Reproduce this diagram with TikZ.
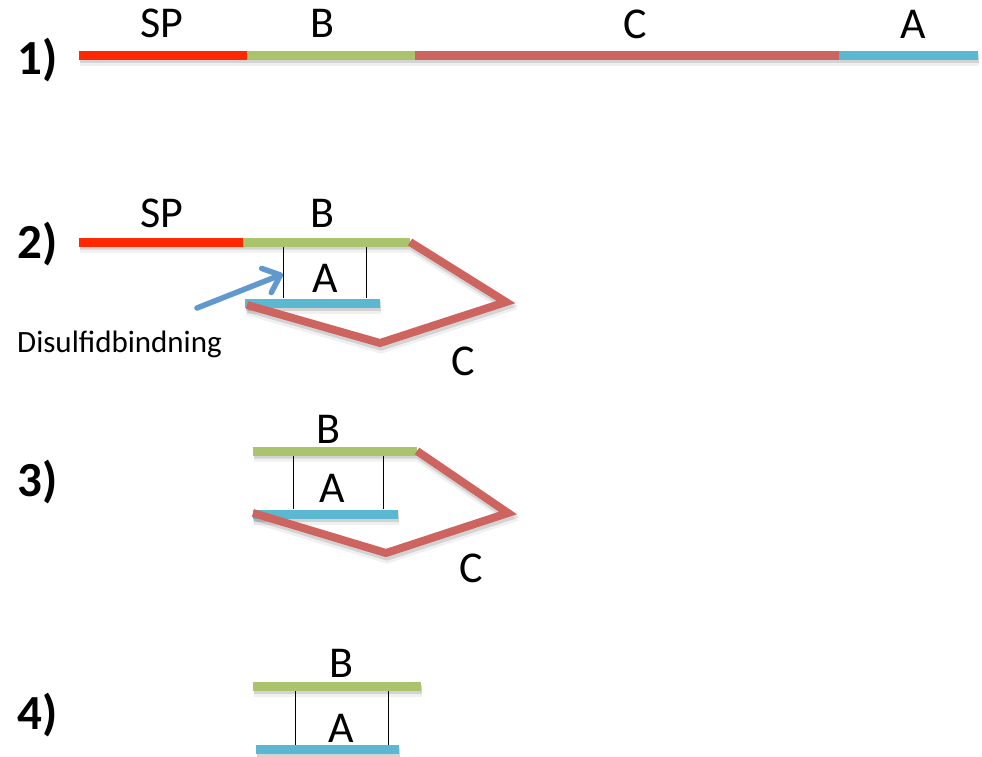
\documentclass[tikz,border=0pt]{standalone}
\usepackage{fontspec}
\setmainfont{Carlito}
\usetikzlibrary{arrows.meta}
\definecolor{spred}{RGB}{255,40,0}
\definecolor{bgreen}{RGB}{169,196,108}
\definecolor{cred}{RGB}{205,100,96}
\definecolor{ablue}{RGB}{91,184,209}
\definecolor{arrblue}{RGB}{97,152,206}
\tikzset{
  bar/.style={line width=9pt, line cap=butt},
  loop/.style={draw=cred, line width=8pt, line join=miter, line cap=butt},
  shade/.style={draw=black, draw opacity=0.10, line width=9pt, line join=miter},
  bond/.style={draw=black, line width=0.9pt},
  lbl/.style={anchor=base, font=\fontsize{44}{44}\selectfont, inner sep=0pt},
  num/.style={anchor=base west, font=\fontsize{49}{49}\selectfont\bfseries, inner sep=0pt},
  note/.style={anchor=base west, font=\fontsize{31}{31}\selectfont, inner sep=0pt}
}
\begin{document}
\begin{tikzpicture}[x=1pt, y=-1pt]
\useasboundingbox (0,0) rectangle (982,756);

% ---- chain end points
% 1) linear precursor: SP - B - C - A
\coordinate (r1a) at (79,55);
\coordinate (r1b) at (247,55);
\coordinate (r1c) at (415,55);
\coordinate (r1d) at (839,55);
\coordinate (r1e) at (978,55);
% 2) folded with signal peptide
\coordinate (r2a) at (79,242);
\coordinate (r2b) at (243,242);
\coordinate (r2c) at (410,242);
\coordinate (r2p) at (506,302);
\coordinate (r2q) at (380,343);
\coordinate (r2r) at (247,305);
\coordinate (a2l) at (245,303);
\coordinate (a2r) at (380,303);
% 3) proinsulin without signal peptide
\coordinate (r3b) at (253,451);
\coordinate (r3c) at (417,451);
\coordinate (r3p) at (508,513);
\coordinate (r3q) at (386,553);
\coordinate (r3r) at (253,513);
\coordinate (a3l) at (253,514);
\coordinate (a3r) at (398,514);
% 4) mature insulin: B and A chains
\coordinate (r4b) at (253,686);
\coordinate (r4c) at (421,686);
\coordinate (a4l) at (256,749);
\coordinate (a4r) at (399,749);

% ---- soft drop shadows under the chains
\foreach \dy/\op in {-6pt/0.06, -3pt/0.12}{
\begin{scope}[transform canvas={shift={(1pt,\dy)}}]
  \draw[shade, draw opacity=\op] (r1a) -- (r1e);
  \draw[shade, draw opacity=\op] (r2a) -- (r2c) -- (r2p) -- (r2q) -- (r2r);
  \draw[shade, draw opacity=\op] (a2l) -- (a2r);
  \draw[shade, draw opacity=\op] (r3b) -- (r3c) -- (r3p) -- (r3q) -- (r3r);
  \draw[shade, draw opacity=\op] (a3l) -- (a3r);
  \draw[shade, draw opacity=\op] (r4b) -- (r4c);
  \draw[shade, draw opacity=\op] (a4l) -- (a4r);
\end{scope}}

% ---- 1)
\draw[bar, spred]  (r1a) -- (r1b);
\draw[bar, bgreen] (r1b) -- (r1c);
\draw[bar, cred]   (r1c) -- (r1d);
\draw[bar, ablue]  (r1d) -- (r1e);
\node[num] (n1) at (17,74) {1)};
\node[lbl] (sp1) at (162,37) {SP};
\node[lbl] (b1)  at (322,37) {B};
\node[lbl] (c1)  at (635,38) {C};
\node[lbl] (a1)  at (913,38) {A};

% ---- 2)
\coordinate (s2at) at (283,242);
\coordinate (s2ab) at (283,298);
\coordinate (s2bt) at (366,242);
\coordinate (s2bb) at (366,298);
\draw[bond] (s2at) -- (s2ab);
\draw[bond] (s2bt) -- (s2bb);
\draw[bar, spred]  (r2a) -- (r2b);
\draw[bar, bgreen] (r2b) -- (r2c);
\draw[bar, ablue]  (a2l) -- (a2r);
\draw[loop] (r2c) -- (r2p) -- (r2q) -- (r2r);
\node[num] (n2) at (17,258) {2)};
\node[lbl] (sp2) at (162,227) {SP};
\node[lbl] (b2)  at (322,227) {B};
\node[lbl] (a2)  at (325,292) {A};
\node[lbl] (c2)  at (463,375) {C};
\node[note] (ds) at (17,352) {Disulfidbindning};
\coordinate (arrtail) at (197,308);
\coordinate (arrtip) at (283,274);
\draw[arrblue, line width=5.5pt, line cap=round,
  -{Straight Barb[length=15pt,width=26pt,round]}] (arrtail) -- (arrtip);

% ---- 3)
\coordinate (s3at) at (293,451);
\coordinate (s3ab) at (293,509);
\coordinate (s3bt) at (383,451);
\coordinate (s3bb) at (383,509);
\draw[bond] (s3at) -- (s3ab);
\draw[bond] (s3bt) -- (s3bb);
\draw[bar, bgreen] (r3b) -- (r3c);
\draw[bar, ablue]  (a3l) -- (a3r);
\draw[loop] (r3c) -- (r3p) -- (r3q) -- (r3r);
\node[num] (n3) at (17,496) {3)};
\node[lbl] (b3) at (328,443) {B};
\node[lbl] (a3) at (332,502) {A};
\node[lbl] (c3) at (471,582) {C};

% ---- 4)
\coordinate (s4at) at (295,686);
\coordinate (s4ab) at (295,745);
\coordinate (s4bt) at (388,686);
\coordinate (s4bb) at (388,745);
\draw[bond] (s4at) -- (s4ab);
\draw[bond] (s4bt) -- (s4bb);
\draw[bar, bgreen] (r4b) -- (r4c);
\draw[bar, ablue]  (a4l) -- (a4r);
\node[num] (n4) at (17,729) {4)};
\node[lbl] (b4) at (341,677) {B};
\node[lbl] (a4) at (341,742) {A};
\end{tikzpicture}
\end{document}
